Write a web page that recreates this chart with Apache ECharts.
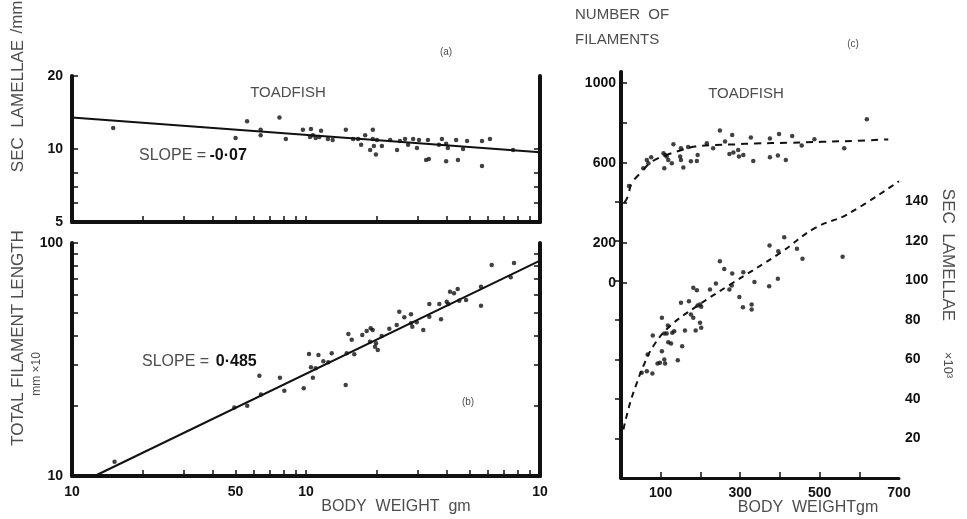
<!DOCTYPE html>
<html>
<head>
<meta charset="utf-8">
<script src="https://cdn.jsdelivr.net/npm/echarts@6/dist/echarts.min.js"></script>
<style>
html, body { margin: 0; padding: 0; background: #fff; }
#chart { width: 967px; height: 519px; }
</style>
</head>
<body>
<div id="chart"></div>
<script>
// (a) secondary lamellae per mm vs body weight (g), log-log
const lamellaePerMm = [
  [15, 12.2], [50, 11.1], [56, 13.0], [64, 12.0], [64, 11.4], [77, 13.5], [82, 11.0],
  [97, 12.0], [104, 11.2], [105, 12.1], [107, 11.4], [110, 11.1], [114, 11.2], [116, 11.9],
  [124, 11.0], [130, 10.9], [148, 12.0], [159, 11.0], [167, 11.0], [172, 10.4], [179, 11.4],
  [188, 9.9], [193, 12.0], [193, 11.0], [195, 10.3], [199, 9.5], [201, 10.9], [211, 10.3],
  [229, 10.9], [245, 9.9], [252, 10.8], [265, 11.0], [273, 10.4], [287, 11.0], [298, 10.1],
  [304, 10.9], [326, 9.0], [335, 9.1], [332, 10.9], [370, 10.4], [381, 11.0], [397, 10.5],
  [397, 8.9], [404, 10.1], [438, 10.9], [446, 9.0], [469, 10.0], [488, 10.8], [565, 8.5],
  [565, 10.8], [611, 11.0], [767, 9.9]
];
// regression line, slope -0.07
const lamellaeFit = [[10, 13.5], [1000, 9.7]];

// (b) total filament length (mm x10) vs body weight, log-log
const filamentLength = [
  [15.2, 11.5], [49.4, 19.7], [56.1, 20.0], [63.2, 26.9], [64.2, 22.4], [77.4, 26.4],
  [80.8, 23.2], [97.8, 23.8], [103, 33.4], [107, 26.4], [105, 29.3], [110, 29.0],
  [113, 33.1], [118.6, 31.1], [124.5, 30.8], [128.8, 33.6], [147.8, 24.6], [149.3, 33.6],
  [151.7, 40.7], [156.8, 38.4], [160.8, 33.3], [174, 40.3], [181.7, 41.9], [189, 43.1],
  [192.8, 42.3], [187.7, 37.7], [197.2, 35.9], [202.6, 34.7], [199.2, 37.1], [210.6, 39.9],
  [227, 42.8], [244.1, 44.5], [250.4, 50.7], [263.1, 48.0], [281, 49.4], [281, 45.2],
  [284.7, 43.7], [297.2, 45.7], [317.1, 42.3], [336.5, 54.7], [336.5, 48.3], [377.6, 47.1],
  [371.3, 54.7], [399.3, 56.0], [405.6, 54.7], [412.5, 61.8], [429.1, 60.8], [444.9, 63.5],
  [451.9, 56.5], [483, 56.9], [559.6, 53.8], [559.6, 64.9], [621.7, 80.4], [774.4, 82.1],
  [749.7, 71.2]
];
// regression line, slope 0.485
const filamentFit = [[12.5, 10], [1000, 84]];

// (c) number of filaments vs body weight (linear)
const filamentCount = [
  [20, 485], [56, 574], [65, 615], [69, 599], [76, 629], [107, 649], [111, 640], [109, 574],
  [115, 632], [119, 615], [128, 599], [132, 694], [149, 632], [151, 615], [157, 577],
  [151, 674], [169, 680], [176, 609], [191, 610], [193, 640], [216, 699], [232, 674],
  [249, 762], [262, 707], [273, 645], [283, 652], [280, 740], [295, 665], [297, 632],
  [308, 640], [327, 727], [333, 610], [375, 722], [375, 629], [395, 637], [398, 745],
  [415, 615], [431, 735], [455, 687], [487, 719], [562, 674], [619, 819]
];
const filamentCountCurve = [
  [8, 400], [17, 431], [27, 498], [52, 556], [77, 606], [115, 640], [153, 665], [186, 682],
  [237, 690], [287, 693], [338, 698], [421, 701], [506, 706], [589, 711], [673, 718]
];

// (c) secondary lamellae (x10^3) vs body weight (linear)
const lamellaeTotal = [
  [52, 53.3], [65, 54.1], [79, 52.9], [67, 62.5], [92, 58.0], [98, 58.3], [109, 60.0],
  [111, 58.0], [103, 64.2], [143, 59.6], [80, 72.2], [103, 81.1], [118, 77.2], [109, 73.2],
  [115, 73.2], [129, 73.5], [134, 74.3], [119, 68.8], [126, 68.1], [154, 66.7], [151, 88.7],
  [171, 89.5], [161, 74.7], [176, 82.8], [182, 81.1], [188, 74.7], [202, 76.1], [199, 78.6],
  [193, 87.3], [199, 87.8], [202, 86.7], [182, 96.3], [191, 95.1], [224, 95.4], [239, 98.5],
  [249, 109.8], [260, 105.9], [273, 95.4], [279, 97.5], [280, 103.5], [298, 91.7],
  [308, 104.2], [307, 86.5], [329, 87.8], [329, 85.3], [336, 99.3], [374, 117.7], [373, 97.1],
  [395, 100.9], [396, 114.8], [411, 121.9], [443, 116.1], [457, 111.0], [558, 112.0]
];
const lamellaeTotalCurve = [
  [6, 24.6], [23, 38.1], [40, 48.2], [56, 56.6], [81, 66.7], [123, 76.9], [191, 87.0],
  [275, 98.0], [401, 114.0], [489, 126.7], [569, 133.4], [700, 150.3]
];

// tick positions and the printed tick labels
const logWeightTicks = [20, 30, 40, 50, 60, 70, 80, 90, 100, 200, 300, 400, 500, 600, 700, 800, 900];
const logWeightLabelValues = [10, 50, 100, 1000];
const logWeightLabelText = ['10', '50', '10', '10'];
const aTickValues = [6, 7, 8, 10];
const aLabelValues = [5, 10, 20];
const bTickValues = [20, 30, 40, 50, 60, 70, 80, 90, 100];
const bLabelValues = [10, 100];
const countTickValues = [0, 200, 400, 600, 800, 1000];
const countLabelValues = [0, 200, 600, 1000];
const lamTickValues = [20, 40, 60, 80, 100, 120, 140];
const linWeightLabelValues = [100, 300, 500, 700];

const FONT = '"Liberation Sans", Arial, sans-serif';
const INK = '#111';
const GREY = '#4d4d4d';

const labelStyle = { color: INK, fontFamily: FONT, fontSize: 14, fontWeight: 'bold', formatter: v => String(v) };

function line(w) { return { show: true, lineStyle: { color: INK, width: w } }; }
function ticks(vals) {
  return { show: true, inside: true, length: 6, customValues: vals, lineStyle: { color: INK, width: 1.5 } };
}

const chart = echarts.init(document.getElementById('chart'), null, { renderer: 'canvas' });

const option = {
  animation: false,
  backgroundColor: '#fff',
  grid: [
    { left: 72, top: 76, width: 468, height: 146 },
    { left: 72, top: 243, width: 468, height: 233 },
    { left: 621, top: 72, width: 278, height: 211 },
    { left: 621, top: 72, width: 278, height: 406 },
    { left: 621, top: 302, width: 278, height: 176 }
  ],
  xAxis: [
    { gridIndex: 0, type: 'log', logBase: 10, min: 10, max: 1000,
      axisLine: line(4), axisTick: ticks(logWeightTicks), axisLabel: { show: false },
      splitLine: { show: false }, minorTick: { show: false } },
    { gridIndex: 1, type: 'log', logBase: 10, min: 10, max: 1000,
      axisLine: line(4), axisTick: ticks(logWeightTicks),
      axisLabel: Object.assign({}, labelStyle, { margin: 9, customValues: logWeightLabelValues,
        formatter: v => logWeightLabelText[logWeightLabelValues.findIndex(t => Math.abs(t - v) < 1e-6)] || '' }),
      splitLine: { show: false } },
    { gridIndex: 2, type: 'value', min: 0, max: 700, show: false },
    { gridIndex: 3, type: 'value', min: 0, max: 700, interval: 100,
      axisLine: line(3), axisTick: ticks([100, 200, 300, 400, 500, 600]),
      axisLabel: Object.assign({}, labelStyle, { margin: 8, customValues: linWeightLabelValues }),
      splitLine: { show: false } },
    { gridIndex: 4, type: 'value', min: 0, max: 700, show: false }
  ],
  yAxis: [
    { gridIndex: 0, type: 'log', logBase: 10, min: 5, max: 20, position: 'left',
      axisLine: line(4), axisTick: ticks(aTickValues.concat([20])),
      axisLabel: Object.assign({}, labelStyle, { margin: 9, customValues: aLabelValues }),
      splitLine: { show: false } },
    { gridIndex: 0, type: 'log', logBase: 10, min: 5, max: 20, position: 'right',
      axisLine: line(4), axisTick: ticks(aTickValues), axisLabel: { show: false },
      splitLine: { show: false } },
    { gridIndex: 1, type: 'log', logBase: 10, min: 10, max: 100, position: 'left',
      axisLine: line(4), axisTick: ticks(bTickValues),
      axisLabel: Object.assign({}, labelStyle, { margin: 9, customValues: bLabelValues }),
      splitLine: { show: false } },
    { gridIndex: 1, type: 'log', logBase: 10, min: 10, max: 100, position: 'right',
      axisLine: line(4), axisTick: ticks(bTickValues.slice(0, 8)), axisLabel: { show: false },
      splitLine: { show: false } },
    { gridIndex: 2, type: 'value', min: 0, max: 1055, position: 'left',
      axisLine: line(3), axisTick: ticks(countTickValues),
      axisLabel: Object.assign({}, labelStyle, { margin: 5, customValues: countLabelValues }),
      splitLine: { show: false } },
    { gridIndex: 3, type: 'value', min: 0, max: 205.6, position: 'right',
      axisLine: line(4), axisTick: ticks(lamTickValues),
      axisLabel: Object.assign({}, labelStyle, { margin: 6, customValues: lamTickValues }),
      splitLine: { show: false } },
    { gridIndex: 4, type: 'value', min: 0, max: 1, position: 'left',
      axisLine: line(3), axisTick: { show: false }, axisLabel: { show: false },
      splitLine: { show: false } }
  ],
  series: [
    { type: 'scatter', xAxisIndex: 0, yAxisIndex: 0, data: lamellaePerMm,
      symbolSize: 4.5, itemStyle: { color: INK } },
    { type: 'line', xAxisIndex: 0, yAxisIndex: 0, data: lamellaeFit, symbol: 'none',
      lineStyle: { color: INK, width: 2 } },
    { type: 'scatter', xAxisIndex: 1, yAxisIndex: 2, data: filamentLength,
      symbolSize: 4.5, itemStyle: { color: INK } },
    { type: 'line', xAxisIndex: 1, yAxisIndex: 2, data: filamentFit, symbol: 'none',
      lineStyle: { color: INK, width: 2 } },
    { type: 'scatter', xAxisIndex: 2, yAxisIndex: 4, data: filamentCount,
      symbolSize: 4.5, itemStyle: { color: INK } },
    { type: 'line', xAxisIndex: 2, yAxisIndex: 4, data: filamentCountCurve, symbol: 'none',
      smooth: 0.4, lineStyle: { color: INK, width: 2, type: [7, 6] } },
    { type: 'scatter', xAxisIndex: 3, yAxisIndex: 5, data: lamellaeTotal,
      symbolSize: 4.5, itemStyle: { color: INK } },
    { type: 'line', xAxisIndex: 3, yAxisIndex: 5, data: lamellaeTotalCurve, symbol: 'none',
      smooth: 0.4, lineStyle: { color: INK, width: 2, type: [6, 5] } }
  ],
  graphic: [
    { type: 'text', x: 18, y: 106, rotation: Math.PI / 2,
      style: { text: 'SEC  LAMELLAE', font: '17px ' + FONT, fill: GREY, align: 'center', verticalAlign: 'middle' } },
    { type: 'text', x: 17, y: 17, rotation: Math.PI / 2,
      style: { text: '/mm', font: '17px ' + FONT, fill: GREY, align: 'center', verticalAlign: 'middle' } },
    { type: 'text', x: 18, y: 338, rotation: Math.PI / 2,
      style: { text: 'TOTAL FILAMENT LENGTH', font: '17px ' + FONT, fill: GREY, align: 'center', verticalAlign: 'middle' } },
    { type: 'text', x: 37, y: 374, rotation: Math.PI / 2,
      style: { text: 'mm ×10', font: '12px ' + FONT, fill: GREY, align: 'center', verticalAlign: 'middle' } },
    { type: 'text', x: 288, y: 93,
      style: { text: 'TOADFISH', font: '15px ' + FONT, fill: GREY, align: 'center', verticalAlign: 'middle' } },
    { type: 'text', x: 446, y: 52,
      style: { text: '(a)', font: '10px ' + FONT, fill: GREY, align: 'center', verticalAlign: 'middle' } },
    { type: 'text', x: 139, y: 156,
      style: { text: '{n|SLOPE =} {b|-0·07}', verticalAlign: 'middle',
        rich: { n: { font: '16px ' + FONT, fill: GREY }, b: { font: 'bold 16px ' + FONT, fill: INK } } } },
    { type: 'text', x: 142, y: 362,
      style: { text: '{n|SLOPE =}  {b|0·485}', verticalAlign: 'middle',
        rich: { n: { font: '16px ' + FONT, fill: GREY }, b: { font: 'bold 16px ' + FONT, fill: INK } } } },
    { type: 'text', x: 468, y: 402,
      style: { text: '(b)', font: '10px ' + FONT, fill: GREY, align: 'center', verticalAlign: 'middle' } },
    { type: 'text', x: 396, y: 507,
      style: { text: 'BODY  WEIGHT  gm', font: '16px ' + FONT, fill: GREY, align: 'center', verticalAlign: 'middle' } },
    { type: 'text', x: 575, y: 15,
      style: { text: 'NUMBER  OF', font: '15px ' + FONT, fill: GREY, verticalAlign: 'middle' } },
    { type: 'text', x: 575, y: 40,
      style: { text: 'FILAMENTS', font: '15px ' + FONT, fill: GREY, verticalAlign: 'middle' } },
    { type: 'text', x: 853, y: 44,
      style: { text: '(c)', font: '10px ' + FONT, fill: GREY, align: 'center', verticalAlign: 'middle' } },
    { type: 'text', x: 746, y: 94,
      style: { text: 'TOADFISH', font: '15px ' + FONT, fill: GREY, align: 'center', verticalAlign: 'middle' } },
    { type: 'text', x: 808, y: 508,
      style: { text: 'BODY  WEIGHTgm', font: '16px ' + FONT, fill: GREY, align: 'center', verticalAlign: 'middle' } },
    { type: 'text', x: 948, y: 255, rotation: -Math.PI / 2,
      style: { text: 'SEC  LAMELLAE', font: '17px ' + FONT, fill: GREY, align: 'center', verticalAlign: 'middle' } },
    { type: 'text', x: 948, y: 365, rotation: -Math.PI / 2,
      style: { text: '×10³', font: '13px ' + FONT, fill: GREY, align: 'center', verticalAlign: 'middle' } }
  ]
};

chart.setOption(option);
</script>
</body>
</html>
